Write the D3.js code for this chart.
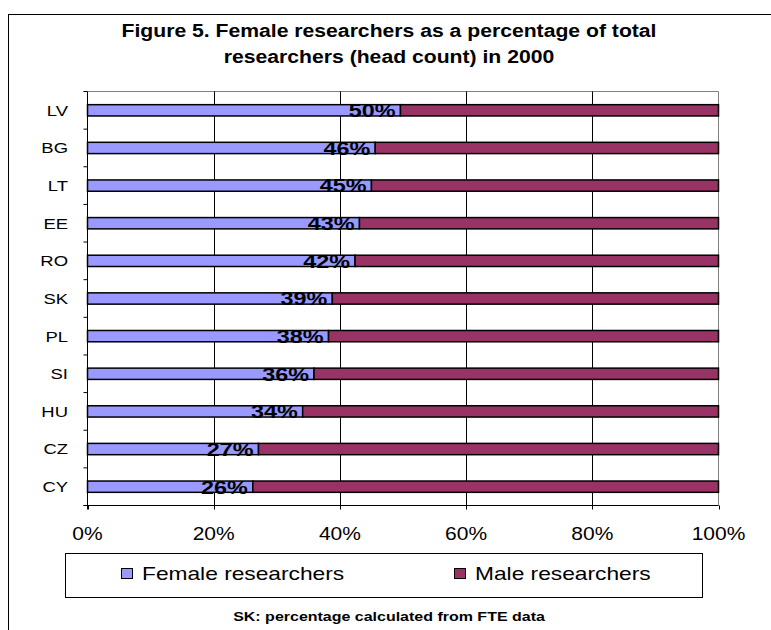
<!DOCTYPE html>
<html>
<head>
<meta charset="utf-8">
<script src="https://cdn.jsdelivr.net/npm/d3@7/dist/d3.min.js"></script>
<style>
  html, body { margin: 0; padding: 0; background: #fff; }
  svg { display: block; font-family: Arial, "Liberation Sans", sans-serif; }
</style>
</head>
<body>
<svg id="chart" width="771" height="630"></svg>
<script>
// Female / male researchers (head count), 2000, share of total in %
const categories = ["LV", "BG", "LT", "EE", "RO", "SK", "PL", "SI", "HU", "CZ", "CY"];
const female = [49.6, 45.6, 45.0, 43.1, 42.4, 38.8, 38.2, 35.9, 34.1, 27.1, 26.2];
const male = [50.4, 54.4, 55.0, 56.9, 57.6, 61.2, 61.8, 64.1, 65.9, 72.9, 73.8];
const seriesNames = ["Female researchers", "Male researchers"];
const xTicks = [0, 20, 40, 60, 80, 100];
const titleLines = ["Figure 5. Female researchers as a percentage of total",
                    "researchers (head count) in 2000"];
const footnote = "SK: percentage calculated from FTE data";

const colors = ["#9999FF", "#993366"];
const SX = 1.23; // horizontal stretch applied to all text

const svg = d3.select("#chart");

// text helper: draws text at (x,y) stretched horizontally
function txt(parent, x, y, s, opts) {
  const g = parent.append("g").attr("transform", `translate(${x},${y}) scale(${opts.sx || SX},1)`);
  const t = g.append("text")
    .attr("x", 0).attr("y", 0)
    .attr("text-anchor", opts.anchor || "start")
    .attr("font-size", opts.size)
    .attr("font-weight", opts.weight || "normal")
    .attr("fill", "#000")
    .text(s);
  if (opts.dy) t.attr("dy", opts.dy);
  return t;
}

// outer chart frame
svg.append("rect")
  .attr("x", 8.5).attr("y", 14.5)
  .attr("width", 800).attr("height", 700)
  .attr("fill", "none").attr("stroke", "#000").attr("stroke-width", 1);

// title
txt(svg, 389, 37, titleLines[0], {anchor: "middle", size: 17.5, weight: "bold", sx: 1.21});
txt(svg, 389, 63, titleLines[1], {anchor: "middle", size: 17.5, weight: "bold", sx: 1.21});

const plot = {left: 87.5, right: 718.5, top: 91.5, bottom: 505.5};

const x = d3.scaleLinear().domain([0, 100]).range([plot.left, plot.right]);
const y = d3.scaleBand().domain(categories)
  .range([plot.top, plot.bottom])
  .paddingInner(0.7).paddingOuter(0.35);
const step = y.step();

// plot area border (top and right)
svg.append("path")
  .attr("d", `M${plot.left},${plot.top}H${plot.right}V${plot.bottom}`)
  .attr("fill", "none").attr("stroke", "#808080").attr("stroke-width", 1);

// vertical gridlines
svg.append("g").selectAll("line")
  .data(xTicks.filter(d => d > 0 && d < 100))
  .join("line")
  .attr("x1", d => Math.round(x(d)) + 0.5).attr("x2", d => Math.round(x(d)) + 0.5)
  .attr("y1", plot.top).attr("y2", plot.bottom)
  .attr("stroke", "#000").attr("stroke-width", 1);

// stacked bars
const rows = categories.map((c, i) => ({cat: c, f: female[i], m: male[i]}));
const stack = d3.stack().keys(["f", "m"])(rows);

svg.append("g").selectAll("g")
  .data(stack)
  .join("g")
  .attr("fill", (d, i) => colors[i])
  .selectAll("rect")
  .data(d => d)
  .join("rect")
  .attr("x", d => x(d[0]))
  .attr("y", d => y(d.data.cat))
  .attr("width", d => x(d[1]) - x(d[0]))
  .attr("height", y.bandwidth())
  .attr("stroke", "#000").attr("stroke-width", 1.5);

// y axis line and tick marks at band boundaries
svg.append("line")
  .attr("x1", plot.left).attr("x2", plot.left)
  .attr("y1", plot.top).attr("y2", plot.bottom + 4)
  .attr("stroke", "#000");
svg.append("g").selectAll("line")
  .data(d3.range(categories.length + 1))
  .join("line")
  .attr("x1", plot.left - 4).attr("x2", plot.left)
  .attr("y1", i => plot.top + i * step).attr("y2", i => plot.top + i * step)
  .attr("stroke", "#000");

// category labels
categories.forEach(c => {
  txt(svg, 68, y(c) + y.bandwidth() / 2, c, {anchor: "end", size: 15, dy: "0.36em"});
});

// x axis line, ticks, labels
svg.append("line")
  .attr("x1", plot.left - 4).attr("x2", plot.right)
  .attr("y1", plot.bottom).attr("y2", plot.bottom)
  .attr("stroke", "#000");
svg.append("g").selectAll("line")
  .data(xTicks)
  .join("line")
  .attr("x1", d => Math.round(x(d)) + 0.5).attr("x2", d => Math.round(x(d)) + 0.5)
  .attr("y1", plot.bottom).attr("y2", plot.bottom + 4)
  .attr("stroke", "#000");
xTicks.forEach(t => {
  txt(svg, x(t), 540, t + "%", {anchor: "middle", size: 17.5, sx: 1.2});
});

// value labels inside bar ends
const fmt = d3.format(".0f");
rows.forEach(r => {
  txt(svg, x(r.f) - 5, y(r.cat) + y.bandwidth() / 2, fmt(r.f) + "%",
      {anchor: "end", size: 19, weight: "bold", dy: "0.36em"});
});

// legend
svg.append("rect")
  .attr("x", 65.5).attr("y", 553.5).attr("width", 637).attr("height", 44)
  .attr("fill", "#fff").attr("stroke", "#000");
const legendItems = [{sx: 121, tx: 142}, {sx: 454, tx: 475}];
legendItems.forEach((p, i) => {
  svg.append("rect")
    .attr("x", p.sx + 0.5).attr("y", 568.5).attr("width", 11).attr("height", 10)
    .attr("fill", colors[i]).attr("stroke", "#000");
  txt(svg, p.tx, 580, seriesNames[i], {size: 18.5});
});

// footnote
txt(svg, 389, 621, footnote, {anchor: "middle", size: 13, weight: "bold"});
</script>
</body>
</html>
